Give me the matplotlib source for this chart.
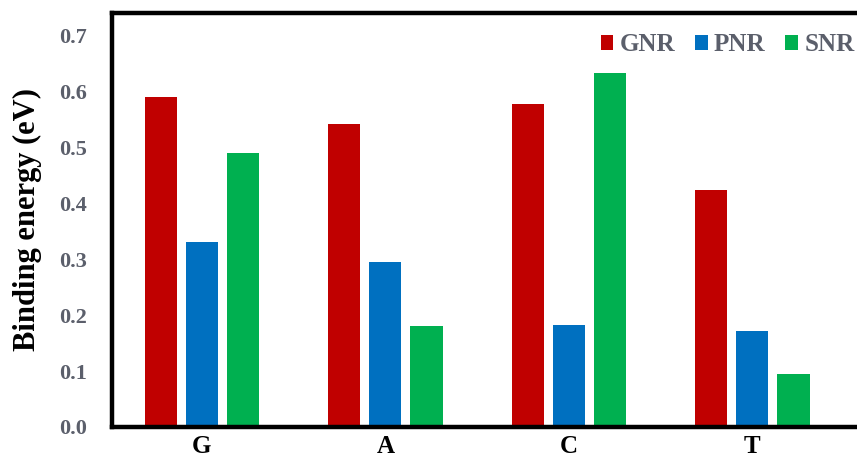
import numpy as np
import matplotlib.pyplot as plt

bases = ['G', 'A', 'C', 'T']
gnr = [0.590, 0.543, 0.579, 0.424]
pnr = [0.331, 0.295, 0.183, 0.171]
snr = [0.491, 0.180, 0.633, 0.095]

plt.rcParams['font.family'] = ['Liberation Serif', 'DejaVu Serif']
plt.rcParams['font.weight'] = 'bold'

fig = plt.figure(figsize=(8.57, 4.61), dpi=100)
ax = fig.add_axes([0.1307, 0.0738, 0.8693, 0.898])

x = np.arange(len(bases))
w = 0.175
off = 0.224
ax.bar(x - off, gnr, w, color='#C00000', label='GNR')
ax.bar(x, pnr, w, color='#0070C0', label='PNR')
ax.bar(x + off, snr, w, color='#00B050', label='SNR')

ax.set_xlim(-0.49, 3.57)
ax.set_ylim(0, 0.741)
ax.set_yticks(np.arange(0, 0.71, 0.1))
ax.set_yticklabels([f'{v:.1f}' for v in np.arange(0, 0.71, 0.1)])
ax.set_xticks(x)
ax.set_xticklabels(bases, fontsize=18, color='black', fontweight='bold')
ax.tick_params(axis='both', length=0)
ax.tick_params(axis='y', labelsize=16, labelcolor='#5b5f6b', pad=18)
ax.tick_params(axis='x', pad=6)

for s in ['left', 'top', 'bottom']:
    ax.spines[s].set_linewidth(3.2)
ax.spines['right'].set_visible(False)

ax.set_ylabel('Binding energy (eV)', fontsize=22, fontweight='bold', labelpad=12)

leg = ax.legend(loc='upper right', bbox_to_anchor=(1.01, 0.975), ncol=3,
                frameon=False, fontsize=18,
                handlelength=0.5, handleheight=0.5, handletextpad=0.25,
                columnspacing=0.8, borderaxespad=0.0)
for t in leg.get_texts():
    t.set_color('#5b5f6b')

fig.savefig('out.png', dpi=100)
